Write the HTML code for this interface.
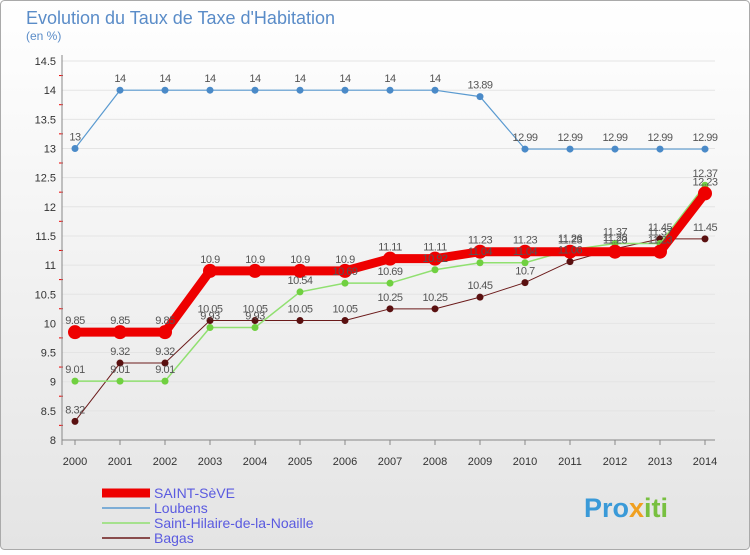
<!DOCTYPE html>
<html><head><meta charset="utf-8"><style>
body{margin:0;width:750px;height:550px;overflow:hidden;font-family:"Liberation Sans",sans-serif}
</style></head><body>
<svg id="c" width="750" height="550">
<defs><linearGradient id="bg" x1="0" y1="0" x2="0" y2="1"><stop offset="0" stop-color="#ffffff"/><stop offset="1" stop-color="#e4e4e4"/></linearGradient></defs>
<rect x="0.5" y="0.5" width="749" height="549" rx="4" fill="url(#bg)" stroke="#aaa"/>
<text x="26" y="24" font-size="18" fill="#5a8cc8">Evolution du Taux de Taxe d'Habitation</text>
<text x="26" y="40" font-size="12" fill="#5a8cc8">(en %)</text>
<g id="grid"></g><g id="axes"></g><g id="series"></g><g id="legend"></g>
<text x="584" y="517" font-size="27" font-weight="bold" fill="#3a9ad8">Pro<tspan fill="#f0a020">x</tspan><tspan fill="#78c040">iti</tspan></text>
</svg>
<script>
const years=[2000,2001,2002,2003,2004,2005,2006,2007,2008,2009,2010,2011,2012,2013,2014];
const yTicks=[8,8.5,9,9.5,10,10.5,11,11.5,12,12.5,13,13.5,14,14.5];
const names=["SAINT-SèVE","Loubens","Saint-Hilaire-de-la-Noaille","Bagas"];
const saintSeve=[9.85,9.85,9.85,10.9,10.9,10.9,10.9,11.11,11.11,11.23,11.23,11.23,11.23,11.23,12.23];
const loubens=[13,14,14,14,14,14,14,14,14,13.89,12.99,12.99,12.99,12.99,12.99];
const stHilaire=[9.01,9.01,9.01,9.93,9.93,10.54,10.69,10.69,10.92,11.04,11.04,11.26,11.37,11.37,12.37];
const bagas=[8.32,9.32,9.32,10.05,10.05,10.05,10.05,10.25,10.25,10.45,10.7,11.06,11.28,11.45,11.45];
const NS="http://www.w3.org/2000/svg";
const x=i=>75+i*45, y=v=>440-(v-8)*58.3;
function el(t,a,p){const e=document.createElementNS(NS,t);for(const k in a)e.setAttribute(k,a[k]);document.getElementById(p).appendChild(e);return e;}
yTicks.forEach((v,k)=>{
 const g=el("line",{x1:62,x2:715,y1:y(v),y2:y(v),stroke:"#e4e4e4"},"grid");
 
 
 const t=el("text",{x:56,y:y(v)+4,"font-size":11,fill:"#333","text-anchor":"end"},"axes");t.textContent=v;
 
 
 if(k>0){
 const m=el("line",{x1:59,x2:63,y1:y(v)+14.5,y2:y(v)+14.5,stroke:"#e00"},"axes");
 
 
 }
});
years.forEach((yr,i)=>{
 const t=el("text",{x:x(i),y:465,"font-size":11,fill:"#333","text-anchor":"middle"},"axes");t.textContent=yr;
 
 
 const k=el("line",{x1:x(i),x2:x(i),y1:440,y2:445,stroke:"#888"},"axes");
 
 
});
let a=el("line",{x1:62,x2:62,y1:55,y2:445,stroke:"#888"},"axes");


a=el("line",{x1:62,x2:715,y1:440,y2:440,stroke:"#888"},"axes");


const defs=[[bagas,"#6b1a1a",1,3.5,"#5a1010"],[stHilaire,"#90e070",1.5,3.5,"#70d040"],[loubens,"#5a9ad0",1.2,3.5,"#4a8ac8"],[saintSeve,"#ee0000",9,7,"#ee0000"]];
defs.forEach((d,si)=>{
 const [vals,col,w,r,pc]=d;
 const p=el("polyline",{points:vals.map((v,i)=>x(i)+","+y(v)).join(" "),fill:"none",stroke:col,"stroke-width":w},"series");
 
 
 vals.forEach((v,i)=>{
  const c=el("circle",{cx:x(i),cy:y(v),r:r,fill:pc},"series");
  
  
 });
});
defs.forEach(d=>{d[0].forEach((v,i)=>{
 const t=el("text",{x:x(i),y:y(v)-8,"font-size":11,fill:"#555","text-anchor":"middle","letter-spacing":"-0.5"},"series");t.textContent=v;
 
 
});});
const lc=["#ee0000","#5a9ad0","#90e070","#6b1a1a"],lw=[9,1.5,1.5,1.5];
names.forEach((n,i)=>{
 const ly=493+i*15;
 const l=el("line",{x1:102,x2:150,y1:ly,y2:ly,stroke:lc[i],"stroke-width":lw[i]},"legend");
 
 
 const t=el("text",{x:154,y:ly+5,"font-size":14,fill:"#5a5ae0"},"legend");t.textContent=n;
 
 
});
</script>
</body></html>
